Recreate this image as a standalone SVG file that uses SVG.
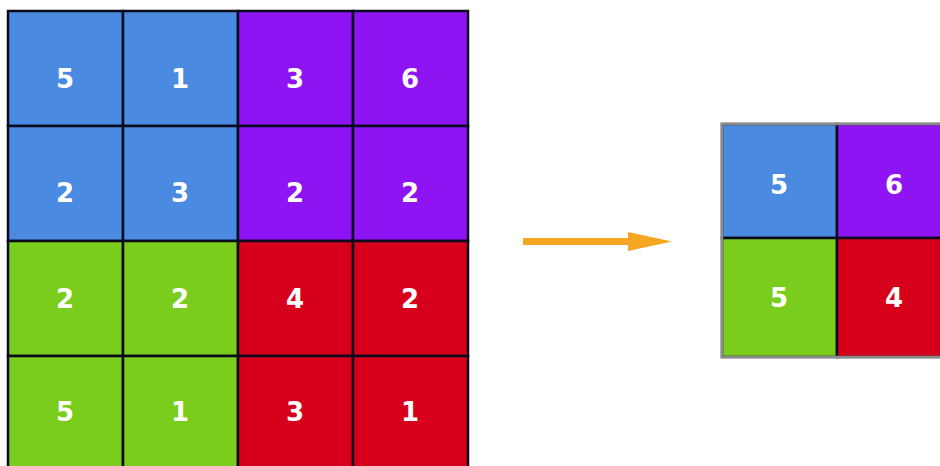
<svg xmlns="http://www.w3.org/2000/svg" width="940" height="466" viewBox="0 0 940 466">
<style>
.b{fill:#4a8ae0}.p{fill:#8e14f4}.g{fill:#7acd1c}.r{fill:#d7001b}
.c{stroke:#0a0a1e;stroke-width:2.5}
.t{font-family:"DejaVu Sans",sans-serif;font-weight:bold;font-size:26px;fill:#ffffff;text-anchor:middle}
</style>
<rect width="940" height="466" fill="#ffffff"/>
<g id="input-grid">
<g id="in-r1c1"><rect class="b c" x="8" y="11" width="115" height="115"/><text class="t" x="65" y="88">5</text></g>
<g id="in-r1c2"><rect class="b c" x="123" y="11" width="115" height="115"/><text class="t" x="180" y="88">1</text></g>
<g id="in-r1c3"><rect class="p c" x="238" y="11" width="115" height="115"/><text class="t" x="295" y="88">3</text></g>
<g id="in-r1c4"><rect class="p c" x="353" y="11" width="115" height="115"/><text class="t" x="410" y="88">6</text></g>
<g id="in-r2c1"><rect class="b c" x="8" y="126" width="115" height="115"/><text class="t" x="65" y="202">2</text></g>
<g id="in-r2c2"><rect class="b c" x="123" y="126" width="115" height="115"/><text class="t" x="180" y="202">3</text></g>
<g id="in-r2c3"><rect class="p c" x="238" y="126" width="115" height="115"/><text class="t" x="295" y="202">2</text></g>
<g id="in-r2c4"><rect class="p c" x="353" y="126" width="115" height="115"/><text class="t" x="410" y="202">2</text></g>
<g id="in-r3c1"><rect class="g c" x="8" y="241" width="115" height="115"/><text class="t" x="65" y="308">2</text></g>
<g id="in-r3c2"><rect class="g c" x="123" y="241" width="115" height="115"/><text class="t" x="180" y="308">2</text></g>
<g id="in-r3c3"><rect class="r c" x="238" y="241" width="115" height="115"/><text class="t" x="295" y="308">4</text></g>
<g id="in-r3c4"><rect class="r c" x="353" y="241" width="115" height="115"/><text class="t" x="410" y="308">2</text></g>
<g id="in-r4c1"><rect class="g c" x="8" y="356" width="115" height="115"/><text class="t" x="65" y="421">5</text></g>
<g id="in-r4c2"><rect class="g c" x="123" y="356" width="115" height="115"/><text class="t" x="180" y="421">1</text></g>
<g id="in-r4c3"><rect class="r c" x="238" y="356" width="115" height="115"/><text class="t" x="295" y="421">3</text></g>
<g id="in-r4c4"><rect class="r c" x="353" y="356" width="115" height="115"/><text class="t" x="410" y="421">1</text></g>
</g>
<g id="connectors">
<rect x="523" y="238" width="108" height="7" fill="#f5a623"/>
<polygon points="628,232 672,241.5 628,251" fill="#f5a623"/>
</g>
<g id="output-grid">
<g id="out-r1c1"><rect class="b c" x="722" y="124" width="115" height="114"/><text class="t" x="779" y="194">5</text></g>
<g id="out-r1c2"><rect class="p c" x="837" y="124" width="115" height="114"/><text class="t" x="894" y="194">6</text></g>
<g id="out-r2c1"><rect class="g c" x="722" y="238" width="115" height="119"/><text class="t" x="779" y="307">5</text></g>
<g id="out-r2c2"><rect class="r c" x="837" y="238" width="115" height="119"/><text class="t" x="894" y="307">4</text></g>
<rect x="722" y="124" width="232" height="233" fill="none" stroke="#8a8a8a" stroke-width="2.5"/>
</g>
</svg>
